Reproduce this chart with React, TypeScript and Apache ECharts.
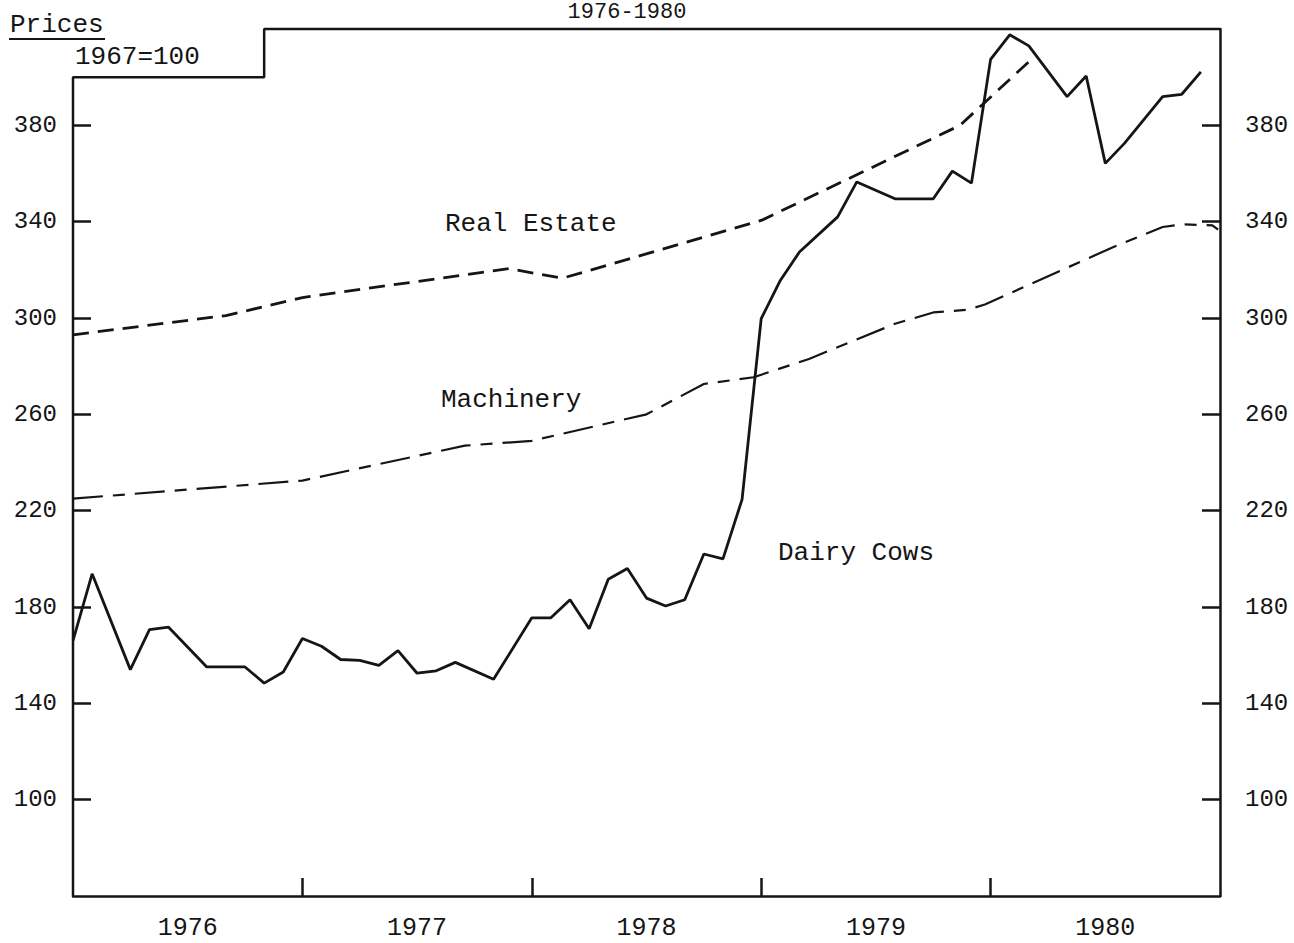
import React, { useEffect, useRef } from "react";
import * as echarts from "echarts";

const YEARS = ["1976", "1977", "1978", "1979", "1980"];
const YEAR_LABEL_POS = [6, 18, 30, 42, 54];
const YEAR_TICKS = [12, 24, 36, 48];
const Y_TICKS = [100, 140, 180, 220, 260, 300, 340, 380];

// months since Jan 1976
const DAIRY_MONTHS = [0, 1, 3, 4, 5, 7, 8, 9, 10, 11, 12, 13, 14, 15, 16, 17, 18, 19, 20, 22, 24, 25, 26, 27, 28, 29, 30, 31, 32, 33, 34, 35, 36, 37, 38, 40, 41, 43, 44, 45, 46, 47, 48, 49, 50, 52, 53, 54, 55, 57, 58, 59];
const DAIRY_VALUES = [166, 193.8, 154, 170.6, 171.6, 155.1, 155.1, 155.1, 148.4, 153, 166.9, 163.7, 158.2, 157.8, 155.8, 161.9, 152.5, 153.5, 157, 150, 175.5, 175.5, 183, 171, 191.5, 196, 183.7, 180.4, 183, 202, 200, 224.7, 299.7, 315.6, 327.4, 342, 356.5, 349.5, 349.5, 349.5, 361, 356, 407.4, 417.6, 413, 391.9, 400.5, 364.2, 372.5, 391.9, 392.9, 402.2];

const ESTATE_MONTHS = [0, 4, 8, 12, 22.8, 25.6, 36, 46.4, 50];
const ESTATE_VALUES = [293, 297, 301, 308.5, 320.5, 316.5, 340.5, 380, 406.4];

const MACH_MONTHS = [0, 12, 20.5, 24, 30, 33, 35.6, 38.5, 43, 45, 46.8, 47.7, 54.4, 57, 58, 59.6, 59.9];
const MACH_VALUES = [225, 232.5, 247, 249, 260, 272.6, 275.4, 283, 297.6, 302.3, 303.4, 305.6, 329.4, 337.8, 338.9, 338.5, 336.7];

const FRAME_MONTHS = [0, 0, 10, 10, 60];
const FRAME_VALUES = [60, 400, 400, 420, 420];

const zip = (xs: number[], ys: number[]) => xs.map((x, i) => [x, ys[i]]);

const FONT = '"Liberation Mono", "DejaVu Sans Mono", monospace';
const INK = "#151515";

export default function App() {
  const ref = useRef<HTMLDivElement>(null);
  useEffect(() => {
    if (!ref.current) return;
    const chart = echarts.init(ref.current, undefined, { renderer: "svg" });
    const yAxisCommon = {
      type: "value",
      min: 60,
      max: 420,
      interval: 40,
      splitLine: { show: false },
      axisTick: {
        show: true,
        inside: true,
        length: 18,
        customValues: Y_TICKS,
        lineStyle: { color: INK, width: 2.5 },
      },
      axisLabel: {
        customValues: Y_TICKS,
        fontFamily: FONT,
        fontSize: 24,
        color: INK,
      },
    };
    const txt = (text: string, x: number, y: number, size = 26, align = "left") => ({
      type: "text",
      x,
      y,
      style: {
        text,
        fill: INK,
        fontFamily: FONT,
        fontSize: size,
        textAlign: align,
        align,
        textVerticalAlign: "middle",
        verticalAlign: "middle",
      },
    });
    chart.setOption({
      animation: false,
      backgroundColor: "#ffffff",
      grid: { left: 73, right: 74, top: 29, bottom: 47, containLabel: false },
      xAxis: {
        type: "value",
        min: 0,
        max: 60,
        splitLine: { show: false },
        axisLine: { show: true, lineStyle: { color: INK, width: 2.5 } },
        axisTick: {
          show: true,
          inside: true,
          length: 18,
          customValues: YEAR_TICKS,
          lineStyle: { color: INK, width: 2.5 },
        },
        axisLabel: {
          customValues: YEAR_LABEL_POS,
          formatter: (v: number) => YEARS[Math.floor(v / 12)] ?? "",
          fontFamily: FONT,
          fontSize: 25,
          color: INK,
          margin: 20,
        },
      },
      yAxis: [
        { ...yAxisCommon, position: "left", axisLine: { show: false }, axisLabel: { ...yAxisCommon.axisLabel, margin: 16 } },
        {
          ...yAxisCommon,
          position: "right",
          axisLine: { show: true, lineStyle: { color: INK, width: 2.5 } },
          axisLabel: { ...yAxisCommon.axisLabel, margin: 25 },
        },
      ],
      graphic: [
        txt("1976-1980", 627, 12, 22, "center"),
        txt("Prices", 10, 25),
        { type: "line", shape: { x1: 9, y1: 39, x2: 105, y2: 39 }, style: { stroke: INK, lineWidth: 2 } },
        txt("1967=100", 75, 57),
        txt("Real Estate", 445, 224),
        txt("Machinery", 441, 400),
        txt("Dairy Cows", 778, 553),
      ],
      series: [
        {
          name: "frame",
          type: "line",
          data: zip(FRAME_MONTHS, FRAME_VALUES),
          showSymbol: false,
          clip: false,
          silent: true,
          lineStyle: { color: INK, width: 2.5 },
        },
        {
          name: "Dairy Cows",
          type: "line",
          data: zip(DAIRY_MONTHS, DAIRY_VALUES),
          showSymbol: false,
          clip: false,
          lineStyle: { color: INK, width: 2.8 },
        },
        {
          name: "Real Estate",
          type: "line",
          data: zip(ESTATE_MONTHS, ESTATE_VALUES),
          showSymbol: false,
          clip: false,
          lineStyle: { color: INK, width: 2.8, type: [16, 9] },
        },
        {
          name: "Machinery",
          type: "line",
          data: zip(MACH_MONTHS, MACH_VALUES),
          showSymbol: false,
          clip: false,
          lineStyle: { color: INK, width: 2.2, type: [30, 10, 12, 10] },
        },
      ],
    });
    return () => chart.dispose();
  }, []);
  return (
    <div
      ref={ref}
      style={{ position: "fixed", left: 0, top: 0, width: 1294, height: 943, background: "#fff" }}
    />
  );
}
